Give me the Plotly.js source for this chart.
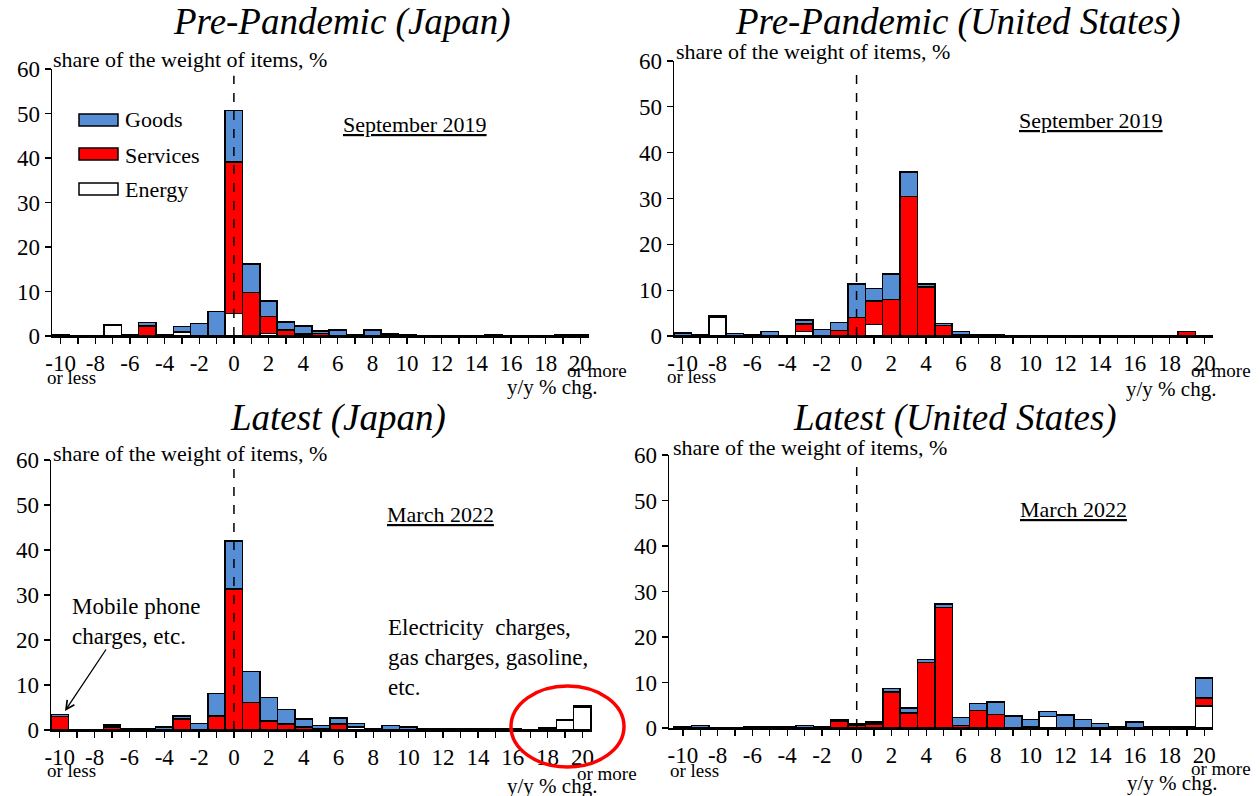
<!DOCTYPE html>
<html>
<head>
<meta charset="utf-8">
<script src="https://cdn.plot.ly/plotly-3.0.1.min.js"></script>
<style>html,body{margin:0;padding:0;background:#fff;}#chart{width:1260px;height:796px;}</style>
</head>
<body>
<div id="chart"></div>
<script>
// Bins: y/y % change, -10 ("or less") ... 20 ("or more")
var bins = [-10,-9,-8,-7,-6,-5,-4,-3,-2,-1,0,1,2,3,4,5,6,7,8,9,10,11,12,13,14,15,16,17,18,19,20];
var tickLabels = ["-10","","-8","","-6","","-4","","-2","","0","","2","","4","","6","","8","","10","","12","","14","","16","","18","","20"];

// Pre-Pandemic (Japan), September 2019
var jpPreEnergy   = [0,0,0,2.5,0,0,0,0.8,0,0,5.1,0,0.6,0,0,0,0,0,0,0,0,0,0,0,0,0,0,0,0,0,0];
var jpPreServices = [0,0,0,0,0,2.25,0,0.2,0,0,34.0,9.8,3.75,1.35,0.5,0.6,0,0,0,0,0,0,0,0,0,0,0,0,0,0,0];
var jpPreGoods    = [0.3,0,0,0,0.3,0.75,0.3,1.1,2.8,5.5,11.6,6.4,3.55,1.75,1.8,0.5,1.35,0.3,1.35,0.5,0.3,0,0,0,0,0.3,0,0,0,0.3,0.3];

// Pre-Pandemic (United States), September 2019
var usPreEnergy   = [0,0,4.0,0,0,0,0,0.95,0,0,0,2.55,0,0,0,0,0,0,0,0,0,0,0,0,0,0,0,0,0,0,0];
var usPreServices = [0,0,0,0,0,0,0,1.65,0,1.25,4.0,5.1,8.0,30.4,10.7,2.3,0.2,0,0,0,0,0,0,0,0,0,0,0,0,1.0,0];
var usPreGoods    = [0.7,0.3,0.35,0.5,0.3,1.0,0,0.9,1.4,1.75,7.4,2.7,5.5,5.4,0.7,0.4,0.8,0.3,0.3,0,0,0,0,0,0,0,0,0,0,0,0];

// Latest (Japan), March 2022
var jpLatEnergy   = [0,0,0,0,0,0,0,0,0,0,0,0,0,0,0,0,0,0.7,0,0,0,0,0,0,0,0,0,0.1,0,2.2,5.1];
var jpLatServices = [3.0,0,0,0.7,0,0,0,2.4,0,3.1,31.3,6.15,2.0,1.3,0.7,0.3,1.3,0,0,0,0,0,0,0,0,0,0,0,0,0,0];
var jpLatGoods    = [0.4,0,0,0.4,0.3,0.3,0.7,0.7,1.5,5.0,10.7,6.85,5.2,3.3,1.7,0.7,1.4,0.8,0.3,1.0,0.7,0.3,0.3,0.3,0.3,0.3,0.3,0,0.4,0,0.3];

// Latest (United States), March 2022
var usLatEnergy   = [0,0,0,0,0,0,0,0,0,0,0,0,0,0,0,0,0,0,0,0,0,2.55,0,0,0,0,0,0,0,0,4.85];
var usLatServices = [0,0,0,0,0,0,0,0,0,1.5,0.6,0.9,7.9,3.3,14.4,26.5,0.6,3.9,2.95,0,0.3,0,0,0,0,0,0,0,0,0,1.75];
var usLatGoods    = [0.3,0.6,0,0,0.3,0.3,0.3,0.5,0.3,0.4,0.3,0.4,0.75,1.1,0.7,0.7,1.7,1.45,2.75,2.65,1.6,1.1,2.9,1.9,0.95,0.3,1.3,0.3,0.3,0.3,4.4];

var seriesNames = ["Energy","Services","Goods"];
var seriesColors = ["#FFFFFF","#FF0000","#558ED5"];

var W = 1260, H = 796;
function px(x){ return x / W; }
function py(y){ return 1 - y / H; }

var panels = [
  {xa:"x",  ya:"y",  data:[jpPreEnergy,jpPreServices,jpPreGoods]},
  {xa:"x2", ya:"y2", data:[usPreEnergy,usPreServices,usPreGoods]},
  {xa:"x3", ya:"y3", data:[jpLatEnergy,jpLatServices,jpLatGoods]},
  {xa:"x4", ya:"y4", data:[usLatEnergy,usLatServices,usLatGoods]}
];

var traces = [];
panels.forEach(function(p){
  for (var k = 0; k < 3; k++) {
    traces.push({
      type:"bar", x:bins, y:p.data[k], xaxis:p.xa, yaxis:p.ya,
      name:seriesNames[k], showlegend:false,
      marker:{color:seriesColors[k], line:{color:"#000", width:1.5}},
      hoverinfo:"x+y+name"
    });
  }
});

var FONT = "Liberation Serif, Times New Roman, serif";
function xaxis(domain, range){
  return {domain:domain, range:range, tickmode:"array", tickvals:bins, ticktext:tickLabels,
    ticks:"outside", ticklen:6, tickwidth:1.3, tickcolor:"#000",
    showline:true, linecolor:"#000", linewidth:1.5, showgrid:false, zeroline:false,
    tickfont:{family:FONT, size:23, color:"#000"}, fixedrange:true};
}
function yaxis(domain){
  return {domain:domain, range:[0,60], dtick:10, tick0:0,
    ticks:"outside", ticklen:6, tickwidth:1.3, tickcolor:"#000",
    showline:true, linecolor:"#000", linewidth:1.5, showgrid:false, zeroline:false,
    tickfont:{family:FONT, size:23, color:"#000"}, fixedrange:true};
}

var ann = [];
function txt(t, x, y, size, opts){
  var a = {text:t, x:px(x), y:py(y), xref:"paper", yref:"paper", showarrow:false,
    font:{family:FONT, size:size, color:"#000"}, xanchor:"center", yanchor:"middle"};
  if (opts) for (var k in opts) a[k] = opts[k];
  ann.push(a);
}
// Subplot titles
txt("<i>Pre-Pandemic (Japan)</i>", 342, 22, 37);
txt("<i>Pre-Pandemic (United States)</i>", 958, 22, 37);
txt("<i>Latest (Japan)</i>", 338, 418, 37);
txt("<i>Latest (United States)</i>", 955, 418, 37);
// y units
txt("share of the weight of items, %", 51, 60, 22, {xanchor:"left"});
txt("share of the weight of items, %", 674, 52, 22, {xanchor:"left"});
txt("share of the weight of items, %", 51, 453, 22, {xanchor:"left"});
txt("share of the weight of items, %", 671, 447, 22, {xanchor:"left"});
// dates
txt("<u>September 2019</u>", 415, 125, 22);
txt("<u>September 2019</u>", 1091, 121, 22);
txt("<u>March 2022</u>", 440, 514, 22);
txt("<u>March 2022</u>", 1073, 509, 22);
// x-axis extras
txt("or less", 71, 377, 19);
txt("or more", 597, 371, 19);
txt("y/y % chg.", 552, 387, 21);
txt("or less", 691, 376, 19);
txt("or more", 1221, 371, 19);
txt("y/y % chg.", 1171, 389, 21);
txt("or less", 71, 770, 19);
txt("or more", 607, 773, 19);
txt("y/y % chg.", 552, 786, 21);
txt("or less", 694, 770, 19);
txt("or more", 1221, 768, 19);
txt("y/y % chg.", 1172, 783, 21);
// legend labels
txt("Goods", 123, 120, 22, {xanchor:"left"});
txt("Services", 123, 155, 22, {xanchor:"left"});
txt("Energy", 123, 189, 22, {xanchor:"left"});
// call-outs
txt("Mobile phone<br>charges, etc.", 70, 621, 23, {xanchor:"left", align:"left"});
txt("Electricity  charges,<br>gas charges, gasoline,<br>etc.", 386, 657, 23, {xanchor:"left", align:"left"});
// arrow
ann.push({text:"", x:px(65), y:py(711), xref:"paper", yref:"paper", showarrow:true,
  ax:42, ay:-63, arrowhead:5, arrowsize:1.3, arrowwidth:1.3, arrowcolor:"#000", standoff:0});

var shapes = [];
// legend boxes
[[114,"#558ED5"],[148,"#FF0000"],[183,"#FFFFFF"]].forEach(function(b){
  shapes.push({type:"rect", xref:"paper", yref:"paper", x0:px(79), x1:px(118), y0:py(b[0]), y1:py(b[0]+12),
    fillcolor:b[1], line:{color:"#000", width:1.5}});
});
// dashed zero lines
[["x","y"],["x2","y2"],["x3","y3"],["x4","y4"]].forEach(function(r){
  shapes.push({type:"line", xref:r[0], yref:r[1], x0:0, x1:0, y0:0, y1:58.5, layer:"above",
    line:{color:"#000", width:1.5, dash:"dash"}});
});
// red ellipse
shapes.push({type:"circle", xref:"paper", yref:"paper", x0:px(511), x1:px(624), y0:py(686), y1:py(767),
  line:{color:"#FF0000", width:3.5}, layer:"above"});

var layout = {
  width:W, height:H, margin:{l:0,r:0,t:0,b:0}, paper_bgcolor:"#fff", plot_bgcolor:"rgba(0,0,0,0)",
  barmode:"stack", bargap:0, showlegend:false, font:{family:FONT, color:"#000"},
  xaxis:  xaxis([px(52), px(589)], [-10.5, 20.5]),
  yaxis:  yaxis([py(336), py(69)]),
  xaxis2: xaxis([px(674), px(1213)], [-10.5, 20.5]),
  yaxis2: yaxis([py(336), py(61)]),
  xaxis3: xaxis([px(51), px(592)], [-10.5, 20.55]),
  yaxis3: yaxis([py(730), py(460)]),
  xaxis4: xaxis([px(669), px(1213)], [-10.8, 20.5]),
  yaxis4: yaxis([py(728), py(455)]),
  annotations: ann, shapes: shapes
};
layout.yaxis.anchor = "x"; layout.xaxis.anchor = "y";
layout.yaxis2.anchor = "x2"; layout.xaxis2.anchor = "y2";
layout.yaxis3.anchor = "x3"; layout.xaxis3.anchor = "y3";
layout.yaxis4.anchor = "x4"; layout.xaxis4.anchor = "y4";

Plotly.newPlot("chart", traces, layout, {displayModeBar:false, staticPlot:true});
</script>
</body>
</html>
